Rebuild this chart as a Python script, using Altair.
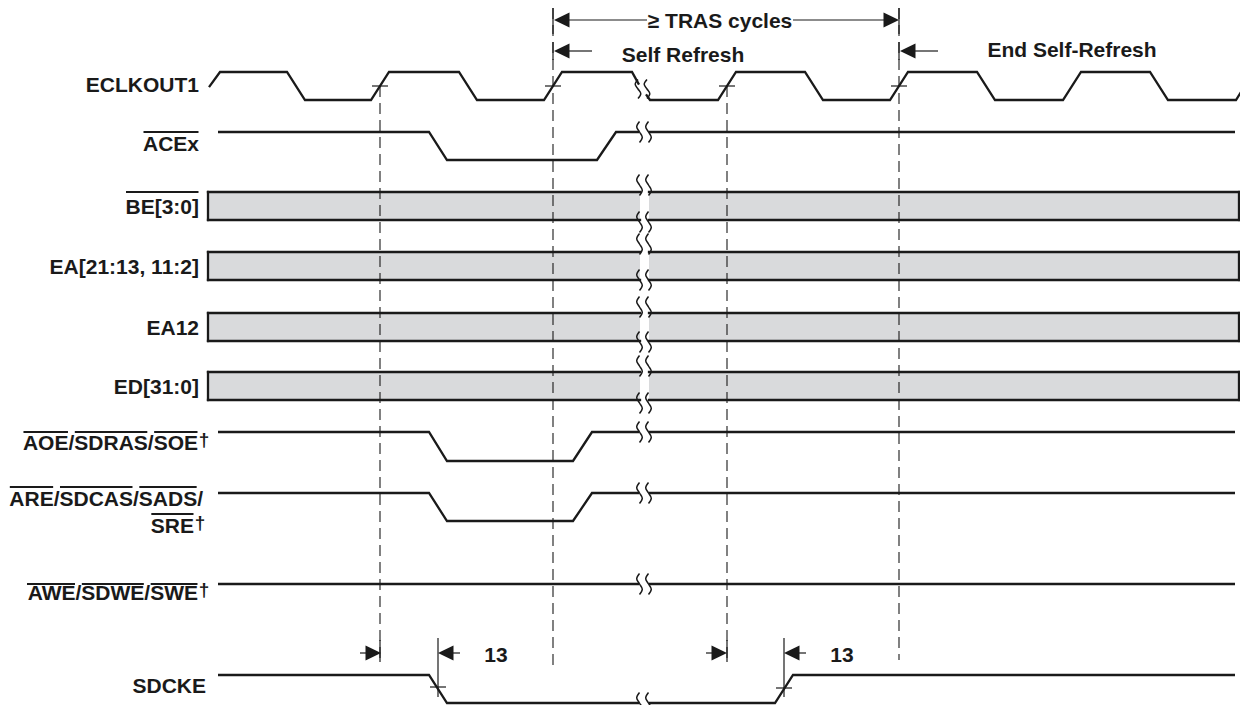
import altair as alt
import pandas as pd

FONT = "Liberation Sans"
INK = "#1a1a1a"
BUS_FILL = "#d9dadc"
FS = 21

# ---------------- data ----------------
# time axis in diagram units (one ECLKOUT1 period is about 173 units)
ROW_NAMES = ["ECLKOUT1", "ACEx", "AOE", "ARE", "AWE", "SDCKE"]
ROW_HIGH = [72, 132, 432, 493, 584, 675]
ROW_LOW = [100, 160, 461, 521, 584, 703]

# waveform vertices (time, level: 1 = high, 0 = low); each signal is split at the break
CLK_A_T = [209, 220, 287, 305, 371, 389, 459, 477, 544, 562, 632, 639]
CLK_A_L = [0.46, 1, 1, 0, 0, 1, 1, 0, 0, 1, 1, 0.55]
CLK_B_T = [646, 650, 718, 736, 805, 823, 890, 908, 977, 995, 1063, 1081, 1150, 1168, 1236, 1244]
CLK_B_L = [0.2, 0, 0, 1, 1, 0, 0, 1, 1, 0, 0, 1, 1, 0, 0, 0.45]
ACE_A_T = [218, 429, 447, 597, 616, 639]
ACE_A_L = [1, 1, 0, 0, 1, 1]
AOE_A_T = [218, 429, 447, 573, 592, 639]
AOE_A_L = [1, 1, 0, 0, 1, 1]
ARE_A_T = [218, 429, 447, 573, 592, 639]
ARE_A_L = [1, 1, 0, 0, 1, 1]
AWE_A_T = [218, 639]
AWE_A_L = [1, 1]
HIGH_B_T = [649, 1235]
HIGH_B_L = [1, 1]
CKE_A_T = [218, 429, 447, 639]
CKE_A_L = [1, 1, 0, 0]
CKE_B_T = [649, 775, 793, 1235]
CKE_B_L = [0, 0, 1, 1]

WAVES = [
    ("ECLKOUT1", CLK_A_T, CLK_A_L), ("ECLKOUT1", CLK_B_T, CLK_B_L),
    ("ACEx", ACE_A_T, ACE_A_L), ("ACEx", HIGH_B_T, HIGH_B_L),
    ("AOE", AOE_A_T, AOE_A_L), ("AOE", HIGH_B_T, HIGH_B_L),
    ("ARE", ARE_A_T, ARE_A_L), ("ARE", HIGH_B_T, HIGH_B_L),
    ("AWE", AWE_A_T, AWE_A_L), ("AWE", HIGH_B_T, HIGH_B_L),
    ("SDCKE", CKE_A_T, CKE_A_L), ("SDCKE", CKE_B_T, CKE_B_L),
]

# bus rows (shaded, value not shown)
BUS_TOP = [192, 252, 313, 372]
BUS_BOT = [220, 280, 341, 400]
BUS_START = [208, 649]
BUS_END = [640, 1239]

# time break (squiggle pairs)
BREAK_T = [639.5, 648.5]
BREAK_Y = [89, 132, 185, 222, 244, 280, 307, 342, 366, 403, 432, 493, 584, 703]
SQ_DX = [0, -2.8, 0, 2.8, 0]
SQ_DY = [-10.5, -5.2, 0, 5.2, 10.5]

# reference lines
REF_T = [380, 553, 727, 899]
REF_Y0 = [86, 8, 86, 8]
REF_Y1 = [660, 667, 660, 660]

# signal crossing marks (time, level y)
CROSS_T = [380, 553, 727, 899, 438, 784]
CROSS_Y = [86, 86, 86, 86, 687, 688]

# short solid extension ticks
TICK_T = [438, 784, 380, 727, 553, 553, 899, 899]
TICK_Y0 = [638, 638, 640, 640, 8, 42, 8, 42]
TICK_Y1 = [697, 697, 662, 662, 34, 60, 34, 60]

# dimension arrows: tip time, y, direction
ARROW_T = [554, 899, 554, 900, 381, 438, 727, 784]
ARROW_Y = [20, 20, 51, 51, 653, 653, 653, 653]
ARROW_DIR = ["L", "R", "L", "L", "R", "L", "R", "L"]
TAIL_T0 = [568, 793, 568, 914, 360, 452, 706, 798]
TAIL_T1 = [647, 885, 592, 938, 368, 460, 714, 806]
TAIL_Y = [20, 20, 51, 51, 653, 653, 653, 653]

NOTE_TEXT = ["\u2265 TRAS cycles", "Self Refresh", "End Self-Refresh", "13", "13"]
NOTE_T = [720, 683, 1072, 496, 842]
NOTE_Y = [27.5, 61.5, 57, 662, 662]

# signal labels
LABEL_TEXT = ["ECLKOUT1", "ACEx", "BE[3:0]", "EA[21:13, 11:2]", "EA12", "ED[31:0]",
              "AOE/SDRAS/SOE", "ARE/SDCAS/SADS/", "SRE", "AWE/SDWE/SWE", "SDCKE"]
LABEL_RIGHT = [199, 199, 199, 199, 199, 199, 198, 203, 194, 198, 206]
LABEL_BASE = [91.5, 151, 213.5, 273.5, 334.5, 393.5, 450, 506, 532.5, 600, 692.5]
LABEL_BARS = [[], [(0, 4)], [(0, 7)], [], [], [],
              [(0, 3), (4, 9), (10, 13)], [(0, 3), (4, 9), (10, 14)], [(0, 3)],
              [(0, 3), (4, 8), (9, 12)], []]
LABEL_BAR_Y = [0, 132, 192, 0, 0, 0, 432, 487, 514, 584, 0]

DAGGER_T = [204, 200, 204]
DAGGER_Y = [446, 528.5, 596]

# ---------------- build tables ----------------
wave_rows = []
for k, (name, ts, ls) in enumerate(WAVES):
    j = ROW_NAMES.index(name)
    hi, lo = ROW_HIGH[j], ROW_LOW[j]
    for i, (t, l) in enumerate(zip(ts, ls)):
        wave_rows.append(dict(seg=k, i=i, t=t, y=lo - l * (lo - hi)))
waves = pd.DataFrame(wave_rows)

sq_rows = []
n = 0
for y in BREAK_Y:
    for bt in BREAK_T:
        tt = bt - 1.5 if y == 89 else bt
        h = 0.9 if y == 89 else 1.0
        for i, (dx, dy) in enumerate(zip(SQ_DX, SQ_DY)):
            sq_rows.append(dict(id=n, i=i, t=tt + dx, y=y + dy * h))
        n += 1
squig = pd.DataFrame(sq_rows)

bus_fill = pd.DataFrame([dict(t=a, t2=b, y=top, y2=bot)
                         for top, bot in zip(BUS_TOP, BUS_BOT)
                         for a, b in zip(BUS_START, BUS_END)])
bus_edge = []
for top, bot in zip(BUS_TOP, BUS_BOT):
    for a, b in zip(BUS_START, BUS_END):
        bus_edge.append(dict(t=a, t2=b, y=top, y2=top))
        bus_edge.append(dict(t=a, t2=b, y=bot, y2=bot))
    bus_edge.append(dict(t=BUS_START[0], t2=BUS_START[0], y=top, y2=bot))
    bus_edge.append(dict(t=BUS_END[-1], t2=BUS_END[-1], y=top, y2=bot))
bus_edge = pd.DataFrame(bus_edge)

refs = pd.DataFrame(dict(t=REF_T, t2=REF_T, y=REF_Y0, y2=REF_Y1))

thin = []
for t, y in zip(CROSS_T, CROSS_Y):
    thin.append(dict(t=t - 8, t2=t + 8, y=y, y2=y))
for t, a, b in zip(TICK_T, TICK_Y0, TICK_Y1):
    thin.append(dict(t=t, t2=t, y=a, y2=b))
for a, b, y in zip(TAIL_T0, TAIL_T1, TAIL_Y):
    thin.append(dict(t=a, t2=b, y=y, y2=y))
thin = pd.DataFrame(thin)

PATH = {"R": "M0,0L-1,-0.48L-1,0.48Z", "L": "M0,0L1,-0.48L1,0.48Z"}
arrows = pd.DataFrame(dict(t=ARROW_T, y=ARROW_Y, shape=[PATH[d] for d in ARROW_DIR]))

notes = pd.DataFrame(dict(t=NOTE_T, y=NOTE_Y, text=NOTE_TEXT))
labels = pd.DataFrame(dict(t=LABEL_RIGHT, y=LABEL_BASE, text=LABEL_TEXT))
daggers = pd.DataFrame(dict(t=DAGGER_T, y=DAGGER_Y, text=["\u2020"] * 3))

ADV = {'A': 722, 'B': 722, 'C': 722, 'D': 722, 'E': 667, 'K': 722, 'L': 611, 'O': 778,
       'R': 722, 'S': 667, 'T': 611, 'U': 722, 'W': 944, 'x': 556, '[': 333, ']': 333,
       ':': 333, '/': 278, ',': 278, ' ': 278}
for d in "0123456789":
    ADV[d] = 556


def adv(s):
    return sum(ADV[c] for c in s) * FS / 1000.0


over = []
for text, right, bars, by in zip(LABEL_TEXT, LABEL_RIGHT, LABEL_BARS, LABEL_BAR_Y):
    x0 = right - adv(text)
    for a, b in bars:
        over.append(dict(t=x0 + adv(text[:a]) + 0.5, t2=x0 + adv(text[:b]) - 0.5, y=by, y2=by))
over = pd.DataFrame(over)

# ---------------- chart ----------------
XS = alt.Scale(domain=[8, 1240], nice=False, zero=False)
YS = alt.Scale(domain=[8, 705], nice=False, zero=False, reverse=True)


def X(f="t"):
    return alt.X(f"{f}:Q", scale=XS, axis=None)


def Y(f="y"):
    return alt.Y(f"{f}:Q", scale=YS, axis=None)


def seg_layer(df, **mk):
    return alt.Chart(df).mark_rule(**mk).encode(x=X(), x2="t2:Q", y=Y(), y2="y2:Q")


layers = [
    alt.Chart(bus_fill).mark_rect(color=BUS_FILL, strokeWidth=0).encode(
        x=X(), x2="t2:Q", y=Y(), y2="y2:Q"),
    seg_layer(refs, color=INK, strokeWidth=1.1, strokeDash=[11, 6]),
    seg_layer(bus_edge, color=INK, strokeWidth=2.3, strokeCap="square"),
    seg_layer(thin, color=INK, strokeWidth=1.2),
    seg_layer(over, color=INK, strokeWidth=1.8),
    alt.Chart(waves).mark_line(color=INK, strokeWidth=2.3, strokeJoin="miter",
                               strokeCap="butt").encode(
        x=X(), y=Y(), detail="seg:N", order="i:Q"),
    alt.Chart(squig).mark_line(color=INK, strokeWidth=1.5, interpolate="cardinal").encode(
        x=X(), y=Y(), detail="id:N", order="i:Q"),
    alt.Chart(arrows).mark_point(filled=True, opacity=1, color=INK, size=961,
                                 strokeWidth=0).encode(
        x=X(), y=Y(), shape=alt.Shape("shape:N", scale=None)),
    alt.Chart(labels).mark_text(align="right", baseline="alphabetic", font=FONT,
                                fontWeight="bold", fontSize=FS, color=INK).encode(
        x=X(), y=Y(), text="text:N"),
    alt.Chart(notes).mark_text(align="center", baseline="alphabetic", font=FONT,
                               fontWeight="bold", fontSize=FS, color=INK).encode(
        x=X(), y=Y(), text="text:N"),
    alt.Chart(daggers).mark_text(align="center", baseline="alphabetic", font=FONT,
                                 fontWeight="bold", fontSize=19, color=INK).encode(
        x=X(), y=Y(), text="text:N"),
]

chart = alt.layer(*layers).properties(
    width=1232, height=697, padding=0, autosize=alt.AutoSizeParams(type="none"),
    background="white",
).configure_view(stroke=None)

chart.save("out.html", embed_options={"renderer": "svg", "actions": False})
